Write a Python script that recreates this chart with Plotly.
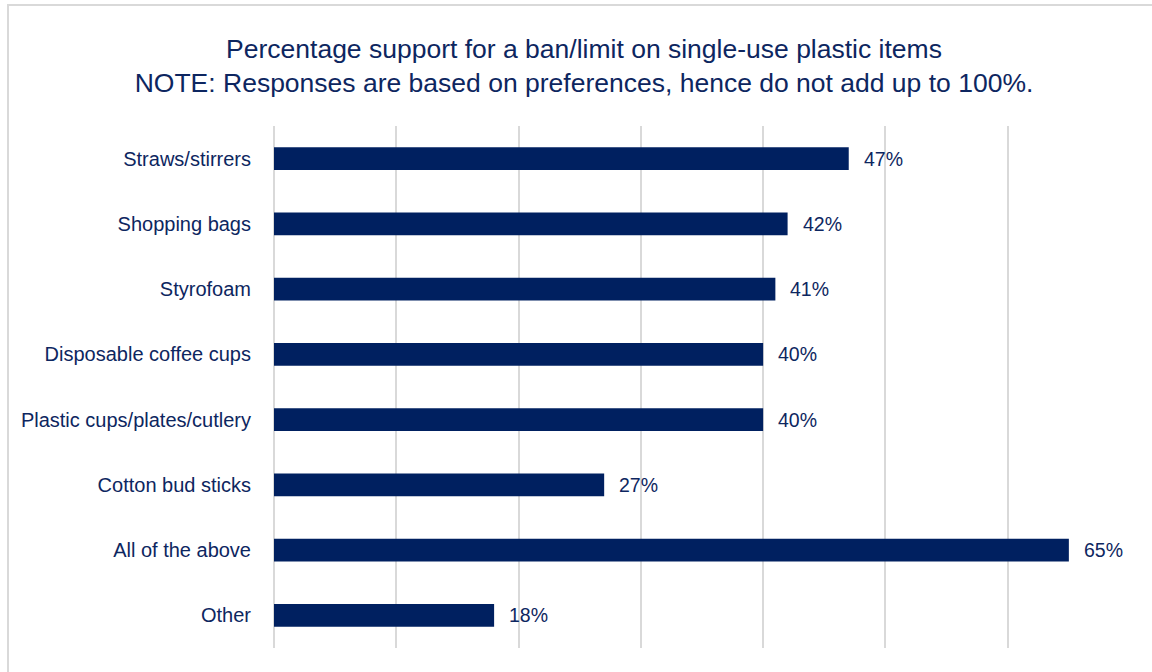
import plotly.graph_objects as go

categories = ["Straws/stirrers", "Shopping bags", "Styrofoam", "Disposable coffee cups",
              "Plastic cups/plates/cutlery", "Cotton bud sticks", "All of the above", "Other"]
values = [47, 42, 41, 40, 40, 27, 65, 18]
value_labels = [f"{v}%" for v in values]
title_lines = ["Percentage support for a ban/limit on single-use plastic items",
               "NOTE: Responses are based on preferences, hence do not add up to 100%."]

FONT = "Liberation Sans Narrow, Arial Narrow, Liberation Sans, Arial, sans-serif"
TEXT = "#0d2660"
BAR = "#002060"
GRID = "#d9d9d9"

W, H = 1152, 672
ml, mr, mt, mb = 274, 22, 126, 24

fig = go.Figure()
fig.add_trace(go.Bar(
    y=categories, x=values, orientation="h",
    marker=dict(color=BAR, line=dict(width=0)),
    width=0.35, hoverinfo="skip",
))
for c, v, t in zip(categories, values, value_labels):
    fig.add_annotation(x=v, y=c, text=t, showarrow=False, xanchor="left", xshift=13,
                       font=dict(family=FONT, size=19.5, color=TEXT))

pw = W - ml - mr
ph = H - mt - mb
fig.add_shape(type="rect", xref="paper", yref="paper",
              x0=(8 - ml) / pw, x1=(1170 - ml) / pw,
              y0=-(H + 20 - mt - ph) / ph, y1=1 + (mt - 5) / ph,
              line=dict(color="#d9d9d9", width=2), fillcolor="rgba(0,0,0,0)", layer="below")

fig.update_layout(
    width=W, height=H,
    margin=dict(l=ml, r=mr, t=mt, b=mb, autoexpand=False),
    paper_bgcolor="white", plot_bgcolor="white",
    showlegend=False,
    title=dict(text="<br>".join(title_lines), x=584 / W, xanchor="center",
               y=1 - 58 / H, yanchor="top",
               font=dict(family=FONT, size=26.5, color=TEXT)),
    xaxis=dict(range=[0, 70], dtick=10, showticklabels=False, showgrid=True,
               gridcolor=GRID, gridwidth=2, zeroline=True, zerolinecolor=GRID,
               zerolinewidth=2, showline=False, fixedrange=True, automargin=False),
    yaxis=dict(autorange="reversed", showgrid=False, showline=False, ticks="",
               ticklabelstandoff=22, automargin=False, fixedrange=True,
               tickfont=dict(family=FONT, size=20, color=TEXT)),
)

fig.write_html("out.html", config={"displayModeBar": False},
               post_script="document.body.style.margin='0';document.body.style.overflow='hidden';")
